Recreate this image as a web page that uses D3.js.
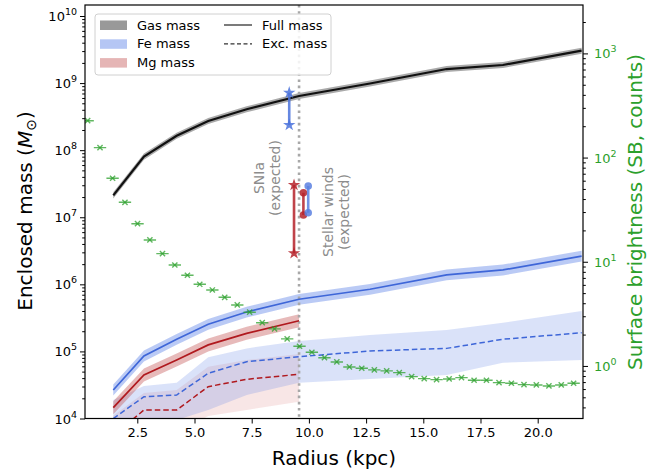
<!DOCTYPE html>
<html><head><meta charset="utf-8">
<script src="https://cdn.jsdelivr.net/npm/d3@7"></script>
<style>body{margin:0;background:#fff}svg{display:block;font-family:"DejaVu Sans",sans-serif}</style>
</head><body><svg id="c" width="665" height="472"></svg>
<script>
// ---------- data ----------
const radius = [1.45, 2.79, 4.22, 5.60, 7.28, 9.57, 12.67, 16.02, 18.48, 21.92];
const gasMass = [2.12e7, 8.0e7, 1.64e8, 2.72e8, 4.07e8, 6.43e8, 9.86e8, 1.62e9, 1.86e9, 3.04e9];
const gasLow  = [1.9e7, 7.2e7, 1.48e8, 2.45e8, 3.66e8, 5.8e8, 8.9e8, 1.46e9, 1.68e9, 2.74e9];
const gasHigh = [2.35e7, 8.9e7, 1.82e8, 3.02e8, 4.52e8, 7.1e8, 1.09e9, 1.8e9, 2.06e9, 3.37e9];
const feFull     = [2.66e4, 8.55e4, 1.52e5, 2.54e5, 3.87e5, 6.0e5, 8.44e5, 1.38e6, 1.64e6, 2.64e6];
const feFullLow  = [2.2e4, 7.1e4, 1.26e5, 2.1e5, 3.2e5, 4.98e5, 7.0e5, 1.15e6, 1.36e6, 2.19e6];
const feFullHigh = [3.2e4, 1.03e5, 1.82e5, 3.05e5, 4.64e5, 7.2e5, 1.01e6, 1.66e6, 1.97e6, 3.17e6];
const feExc     = [1.0e4, 2.11e4, 2.24e4, 4.72e4, 7.03e4, 8.34e4, 1.015e5, 1.11e5, 1.52e5, 1.90e5];
const feExcLow  = [5e3, 9.0e3, 9.5e3, 1.34e4, 2.24e4, 3.42e4, 3.88e4, 4.45e4, 6.79e4, 7.45e4];
const feExcHigh = [1.89e4, 3.05e4, 3.42e4, 8.17e4, 1.11e5, 1.43e5, 1.76e5, 2.09e5, 2.68e5, 4.0e5];
const mgFull     = [1.45e4, 4.45e4, 7.45e4, 1.25e5, 1.86e5, 2.87e5];
const mgFullLow  = [1.16e4, 3.56e4, 5.96e4, 1.0e5, 1.49e5, 2.3e5];
const mgFullHigh = [1.81e4, 5.56e4, 9.3e4, 1.56e5, 2.33e5, 3.59e5];
const mgExc     = [5.5e3, 1.34e4, 1.34e4, 2.98e4, 3.84e4, 4.56e4];
const mgExcLow  = [2.5e3, 5e3, 6e3, 1.09e4, 1.34e4, 1.78e4];
const mgExcHigh = [1.1e4, 2.4e4, 2.66e4, 5.92e4, 7.45e4, 9.16e4];

const sbRadius = [0.33, 0.87, 1.42, 1.96, 2.51, 3.05, 3.60, 4.14, 4.69, 5.23, 5.78, 6.32, 6.87, 7.41, 7.96, 8.50, 9.05, 9.59, 10.13, 10.68,
                  11.22, 11.77, 12.31, 12.86, 13.40, 13.95, 14.49, 15.04, 15.58, 16.13, 16.67, 17.22, 17.76, 18.31, 18.85, 19.40, 19.94, 20.49, 21.03, 21.57];
const sbValue = [226, 124.5, 63.3, 37.2, 23.2, 16.2, 11.96, 9.31, 7.42, 6.08, 5.36, 4.56, 3.85, 3.28, 2.60, 2.27, 1.82, 1.545, 1.353, 1.20,
                 1.092, 0.978, 0.950, 0.916, 0.896, 0.862, 0.789, 0.755, 0.739, 0.750, 0.772, 0.729, 0.729, 0.691, 0.682, 0.662, 0.657, 0.643, 0.657, 0.682];
const sbHalfWidth = 0.27;

const cutRadius = 9.57;
// expected markers: [radius, low, high]
const snIaFe = [9.14, 2.37e8, 7.2e8];
const snIaMg = [9.35, 2.9e6, 3.03e7];
const windMg = [9.76, 1.08e7, 2.32e7];
const windFe = [9.97, 1.17e7, 2.92e7];

const xTicks = [2.5, 5.0, 7.5, 10.0, 12.5, 15.0, 17.5, 20.0];
const yExps = [4, 5, 6, 7, 8, 9, 10];
const y2Exps = [0, 1, 2, 3];

// ---------- layout ----------
const L = 85, R = 583, T = 5, B = 418.5;
const svg = d3.select("#c");
const x = d3.scaleLinear().domain([0.214, 21.98]).range([L, R]);
const y = d3.scaleLog().domain([1e4, 1.459e10]).range([B, T]);
const y2 = d3.scaleLog().domain([0.313, 2914]).range([B, T]);

svg.append("defs").append("clipPath").attr("id", "clip")
  .append("rect").attr("x", L).attr("y", T).attr("width", R - L).attr("height", B - T);
const g = svg.append("g").attr("clip-path", "url(#clip)");

const BLUE = "#3e66d8", RED = "#b0191e";

function band(rs, lo, hi, fill, op) {
  const a = d3.area().x((d, i) => x(rs[i])).y0((d, i) => y(lo[i])).y1((d, i) => y(hi[i]));
  g.append("path").attr("d", a(lo)).attr("fill", fill).attr("fill-opacity", op);
}
function line(rs, vals, color, w, dash) {
  const l = d3.line().x((d, i) => x(rs[i])).y(d => y(d));
  const p = g.append("path").attr("d", l(vals)).attr("fill", "none").attr("stroke", color).attr("stroke-width", w);
  if (dash) p.attr("stroke-dasharray", dash);
}
const r6 = radius.slice(0, 6);

// bands
band(r6, mgExcLow, mgExcHigh, "#d46a6a", 0.17);
band(radius, feExcLow, feExcHigh, "#6b8ce6", 0.25);
band(radius, gasLow, gasHigh, "#555", 0.5);
band(radius, feFullLow, feFullHigh, "#5b80e6", 0.42);
band(r6, mgFullLow, mgFullHigh, "#c65a5a", 0.42);

// dotted vertical line
g.append("line").attr("x1", x(cutRadius)).attr("x2", x(cutRadius)).attr("y1", T).attr("y2", B)
  .attr("stroke", "#a8a8a8").attr("stroke-width", 2.6).attr("stroke-dasharray", "2.6,3.6");

// lines
line(radius, gasMass, "#111", 2.2);
line(radius, feFull, BLUE, 1.7);
line(r6, mgFull, RED, 1.7);
line(radius, feExc, BLUE, 1.5, "5.5,3");
line(r6, mgExc, RED, 1.5, "5.5,3");

// surface brightness
const gS = g.append("g").attr("stroke", "#2ca02c").attr("stroke-opacity", 0.75).attr("fill", "none");
sbRadius.forEach((r, i) => {
  const cx = x(r), cy = y2(sbValue[i]);
  gS.append("line").attr("x1", x(r - sbHalfWidth)).attr("x2", x(r + sbHalfWidth)).attr("y1", cy).attr("y2", cy).attr("stroke-width", 1.4);
  gS.append("path").attr("d", `M${cx-2.6},${cy-2.6}L${cx+2.6},${cy+2.6}M${cx-2.6},${cy+2.6}L${cx+2.6},${cy-2.6}`).attr("stroke-width", 1.4);
});

// expected markers
function marker(d, color, kind) {
  const cx = x(d[0]);
  g.append("line").attr("x1", cx).attr("x2", cx).attr("y1", y(d[1])).attr("y2", y(d[2]))
    .attr("stroke", color).attr("stroke-width", 2.6).attr("stroke-opacity", 0.85);
  [d[1], d[2]].forEach(v => {
    if (kind === "star") {
      g.append("path").attr("d", d3.symbol(d3.symbolStar, 48)()).attr("transform", `translate(${cx},${y(v)})`)
        .attr("fill", color).attr("fill-opacity", 0.85);
    } else {
      g.append("circle").attr("cx", cx).attr("cy", y(v)).attr("r", 3.8).attr("fill", color).attr("fill-opacity", 0.85);
    }
  });
}
marker(snIaFe, "#4a72dc", "star");
marker(snIaMg, "#b5222a", "star");
marker(windMg, "#b5222a", "circle");
marker(windFe, "#5a80e0", "circle");

// annotations
function vtext(cx, cy, lines) {
  const t = svg.append("text").attr("transform", `translate(${cx},${cy}) rotate(-90)`)
    .attr("text-anchor", "middle").attr("fill", "#8c8c8c").attr("font-size", 14);
  lines.forEach((s, i) => t.append("tspan").attr("x", 0).attr("y", (i - (lines.length - 1) / 2) * 16 + 5).text(s));
}
vtext(267, 178, ["SNIa", "(expected)"]);
vtext(336, 212, ["Stellar winds", "(expected)"]);

// ---------- axes ----------
svg.append("rect").attr("x", L).attr("y", T).attr("width", R - L).attr("height", B - T)
  .attr("fill", "none").attr("stroke", "#000").attr("stroke-width", 1.2);

function minors(scale, e0, e1) {
  const m = [];
  for (let e = e0; e <= e1; e++) for (let k = 2; k <= 9; k++) {
    const v = k * Math.pow(10, e);
    if (v >= scale.domain()[0] && v <= scale.domain()[1]) m.push(v);
  }
  return m;
}
// x axis
const xa = svg.append("g").attr("transform", `translate(0,${B})`)
  .call(d3.axisBottom(x).tickValues(xTicks).tickFormat(d3.format(".1f")).tickSize(5).tickPadding(4));
xa.select(".domain").remove();
xa.selectAll("text").attr("font-size", 13).attr("font-family", "DejaVu Sans").attr("fill", "#000");

// left axis
const ya = svg.append("g").attr("transform", `translate(${L},0)`)
  .call(d3.axisLeft(y).tickValues(yExps.map(e => Math.pow(10, e))).tickSize(5).tickFormat(""));
ya.select(".domain").remove();
const yam = svg.append("g").attr("transform", `translate(${L},0)`)
  .call(d3.axisLeft(y).tickValues(minors(y, 3, 10)).tickSize(2.8).tickFormat(""));
yam.select(".domain").remove();
yExps.forEach(e => {
  const t = svg.append("text").attr("x", L - 8).attr("y", y(Math.pow(10, e)) + 5).attr("text-anchor", "end")
    .attr("font-size", 13).attr("fill", "#000");
  t.append("tspan").text("10");
  t.append("tspan").attr("dy", -6).attr("font-size", 9.5).text(e);
});

// right axis
const y2a = svg.append("g").attr("transform", `translate(${R},0)`)
  .call(d3.axisRight(y2).tickValues(y2Exps.map(e => Math.pow(10, e))).tickSize(5).tickFormat(""));
y2a.select(".domain").remove();
const y2am = svg.append("g").attr("transform", `translate(${R},0)`)
  .call(d3.axisRight(y2).tickValues(minors(y2, -1, 3)).tickSize(2.8).tickFormat(""));
y2am.select(".domain").remove();
y2Exps.forEach(e => {
  const t = svg.append("text").attr("x", R + 11).attr("y", y2(Math.pow(10, e)) + 5).attr("text-anchor", "start")
    .attr("font-size", 13).attr("fill", "#2ca02c");
  t.append("tspan").text("10");
  t.append("tspan").attr("dy", -6).attr("font-size", 9.5).text(e);
});

// axis labels
svg.append("text").attr("x", 334).attr("y", 465).attr("text-anchor", "middle").attr("font-size", 20).text("Radius (kpc)");
const yl = svg.append("text").attr("transform", `translate(32,211) rotate(-90)`).attr("text-anchor", "middle").attr("font-size", 20);
yl.append("tspan").text("Enclosed mass (");
yl.append("tspan").attr("font-style", "italic").text("M");
yl.append("tspan").attr("font-size", 14).attr("dy", 4).text("⊙");
yl.append("tspan").attr("dy", -4).text(")");
svg.append("text").attr("transform", `translate(642,212) rotate(-90)`).attr("text-anchor", "middle")
  .attr("font-size", 20).attr("fill", "#2ca02c").text("Surface brightness (SB, counts)");

// legend
const lg = svg.append("g");
lg.append("rect").attr("x", 95).attr("y", 14).attr("width", 236).attr("height", 61).attr("rx", 3)
  .attr("fill", "#fff").attr("fill-opacity", 0.85).attr("stroke", "#d0d0d0");
const patches = [["Gas mass", "#555", 0.6], ["Fe mass", "#5b80e6", 0.45], ["Mg mass", "#c65a5a", 0.45]];
patches.forEach((p, i) => {
  const cy = 25 + i * 18.8;
  lg.append("rect").attr("x", 100).attr("y", cy - 4.5).attr("width", 27).attr("height", 9.5).attr("fill", p[1]).attr("fill-opacity", p[2]);
  lg.append("text").attr("x", 137).attr("y", cy + 4.5).attr("font-size", 13).text(p[0]);
});
[["Full mass", null], ["Exc. mass", "4,2.5"]].forEach((p, i) => {
  const cy = 25 + i * 18.8;
  const l = lg.append("line").attr("x1", 224).attr("x2", 252).attr("y1", cy).attr("y2", cy).attr("stroke", "#333").attr("stroke-width", 1.3);
  if (p[1]) l.attr("stroke-dasharray", p[1]);
  lg.append("text").attr("x", 262).attr("y", cy + 4.5).attr("font-size", 13).text(p[0]);
});
</script></body></html>
